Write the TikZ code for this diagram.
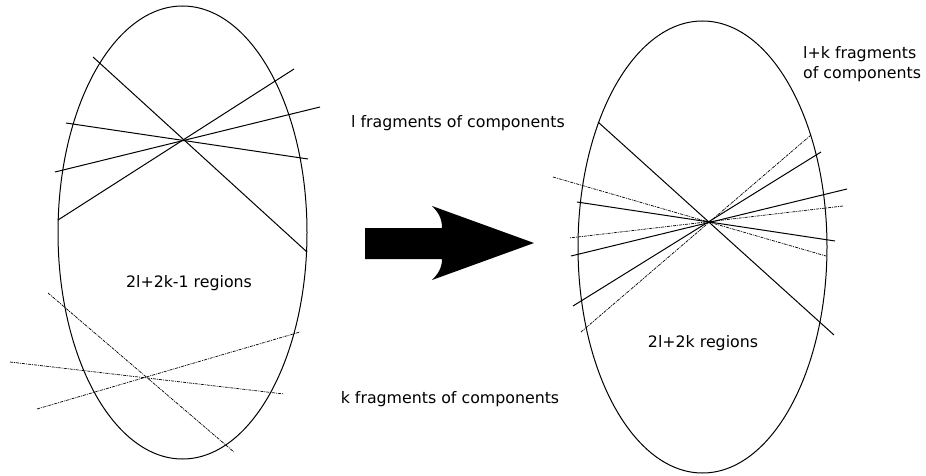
\documentclass[tikz,border=0pt]{standalone}
\usepackage{fontspec}
\setmainfont{DejaVu Sans}
\usepackage{tikz}
\usetikzlibrary{calc}
\tikzset{
	cut/.style={line width=1pt},
	dcut/.style={line width=0.7pt, dash pattern=on 3pt off 1pt on 1pt off 1pt},
	lbl/.style={font=\fontsize{15.8}{20}\selectfont, inner sep=0pt}
}

\begin{document}
\begin{tikzpicture}[x=1pt, y=-1pt]
	\useasboundingbox (0,0) rectangle (926,476);

	% left disc
	\draw [line width=1pt] (182.5,232.5) ellipse (124.5 and 226.5);
	\draw [cut] (93,57) -- (307,252);
	\draw [cut] (294,69) -- (58,220);
	\draw [cut] (320,107) -- (55,172);
	\draw [cut] (66,123) -- (308,159);
	\draw [dcut] (48,293) -- (234,452);
	\draw [dcut] (10,362) -- (284,394);
	\draw [dcut] (37,409) -- (300,332);
	\node [lbl] (regl) at (189,283) {2l+2k-1 regions};

	% right disc
	\draw [line width=1pt] (702.5,247) ellipse (124.5 and 226);
	\draw [cut] (598,122) -- (834,335);
	\draw [cut] (821,152) -- (573,306);
	\draw [cut] (847,189) -- (571,256);
	\draw [cut] (577,202) -- (835,241);
	\draw [dcut] (811,135) -- (581,332);
	\draw [dcut] (553,177) -- (826,256);
	\draw [dcut] (843,206) -- (569,238);
	\node [lbl] (regr) at (703,343) {2l+2k regions};
	\node [lbl, align=left, anchor=north west] (lk) at (803,46) {l+k fragments\\of components};

	\node [lbl] (lfr) at (458,123) {l fragments of components};
	\node [lbl] (kfr) at (450,399) {k fragments of components};

	% big arrow
	\fill (365,228) -- (442,228) .. controls (442,218) and (438,212) .. (432,206)
		-- (534,243) -- (432,280) .. controls (438,274) and (442,268) .. (442,259)
		-- (365,259) -- cycle;
\end{tikzpicture}
\end{document}
